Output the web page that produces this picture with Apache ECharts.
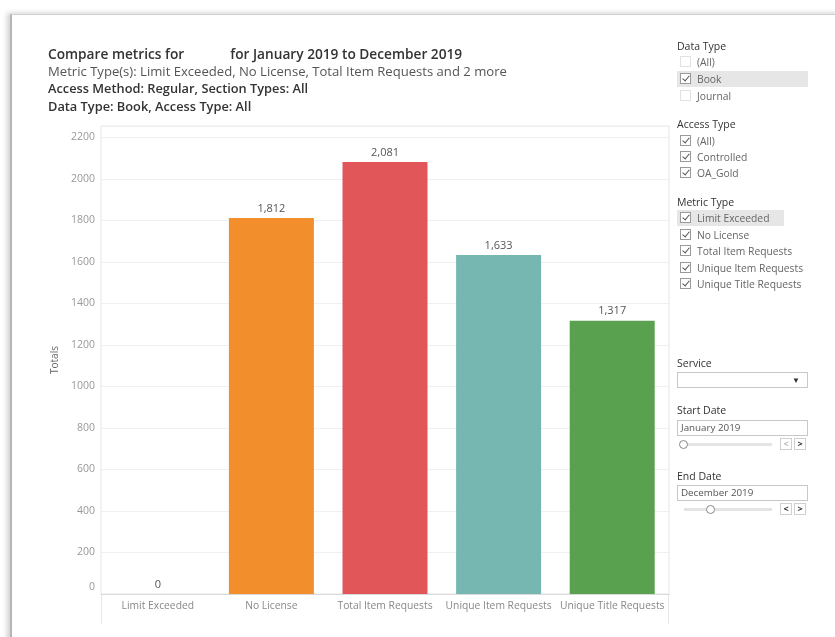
<!DOCTYPE html>
<html>
<head>
<meta charset="utf-8">
<script src="https://cdn.jsdelivr.net/npm/echarts@6/dist/echarts.min.js"></script>
<style>
  html, body { margin:0; padding:0; background:#fff; }
  body { width:835px; height:637px; position:relative; overflow:hidden; font-family:"Open Sans", "Noto Sans", sans-serif; }
  #frame { position:absolute; left:10px; top:14px; width:900px; height:700px; border-left:2px solid #b5b5b5; border-top:1px solid #d0d0d0; box-shadow:-3px -1px 5px rgba(0,0,0,0.18); }
  #chart { position:absolute; left:0; top:0; width:835px; height:637px; }
  .hdr { position:absolute; left:677px; font-size:10.5px; color:#333; }
  .row { position:absolute; left:677px; height:16px; line-height:16px; font-size:10.3px; color:#666; }
  .row.hl { background:#e6e6e6; }
  .cb { position:absolute; left:3px; top:2px; width:11px; height:11px; border:1px solid #9a9a9a; box-sizing:border-box; background:#fff; }
  .cb.off { border-color:#e2e2e2; }
  .cb.on::after { content:""; position:absolute; left:3px; top:0px; width:3px; height:6px; border:solid #555; border-width:0 1px 1px 0; transform:rotate(40deg); }
  .lbl { position:absolute; left:20px; top:0; white-space:nowrap; }
  .box { position:absolute; left:677px; width:131px; height:16px; border:1px solid #c8c8c8; box-sizing:border-box; font-size:9.8px; color:#555; line-height:14px; padding-left:3px; background:#fff; }
  .slider { position:absolute; height:3px; background:#e4e4e4; }
  .knob { position:absolute; width:7px; height:7px; border:1px solid #888; border-radius:50%; background:#fff; }
  .btn { position:absolute; width:12px; height:12px; border:1px solid #d0d0d0; box-sizing:border-box; font-size:9px; line-height:10px; text-align:center; color:#333; font-weight:bold; }
  .btn.dim { color:#bbb; }
</style>
</head>
<body>
<div id="frame"></div>
<div id="chart"></div>

<div class="hdr" style="top:39px;">Data Type</div>
<div class="row" style="top:54px;width:131px;"><span class="cb off"></span><span class="lbl">(All)</span></div>
<div class="row hl" style="top:71px;width:131px;"><span class="cb on"></span><span class="lbl">Book</span></div>
<div class="row" style="top:88px;width:131px;"><span class="cb off"></span><span class="lbl">Journal</span></div>

<div class="hdr" style="top:117px;">Access Type</div>
<div class="row" style="top:133px;width:131px;"><span class="cb on"></span><span class="lbl">(All)</span></div>
<div class="row" style="top:149px;width:131px;"><span class="cb on"></span><span class="lbl">Controlled</span></div>
<div class="row" style="top:165px;width:131px;"><span class="cb on"></span><span class="lbl">OA_Gold</span></div>

<div class="hdr" style="top:195px;">Metric Type</div>
<div class="row hl" style="top:210px;width:107px;"><span class="cb on"></span><span class="lbl">Limit Exceeded</span></div>
<div class="row" style="top:227px;width:131px;"><span class="cb on"></span><span class="lbl">No License</span></div>
<div class="row" style="top:243px;width:131px;"><span class="cb on"></span><span class="lbl">Total Item Requests</span></div>
<div class="row" style="top:260px;width:131px;"><span class="cb on"></span><span class="lbl">Unique Item Requests</span></div>
<div class="row" style="top:276px;width:131px;"><span class="cb on"></span><span class="lbl">Unique Title Requests</span></div>

<div class="hdr" style="top:356px;">Service</div>
<div class="box" style="top:372px;"><span style="position:absolute;right:7px;top:0;font-size:8px;color:#333;">&#9660;</span></div>

<div class="hdr" style="top:403px;">Start Date</div>
<div class="box" style="top:420px;">January 2019</div>
<div class="slider" style="left:680px;top:443px;width:92px;"></div>
<div class="knob" style="left:679px;top:440px;"></div>
<div class="btn dim" style="left:780px;top:438px;">&lt;</div>
<div class="btn" style="left:794px;top:438px;">&gt;</div>

<div class="hdr" style="top:469px;">End Date</div>
<div class="box" style="top:485px;">December 2019</div>
<div class="slider" style="left:684px;top:508px;width:88px;"></div>
<div class="knob" style="left:706px;top:505px;"></div>
<div class="btn" style="left:780px;top:503px;">&lt;</div>
<div class="btn" style="left:794px;top:503px;">&gt;</div>

<script>
const categories = ["Limit Exceeded", "No License", "Total Item Requests", "Unique Item Requests", "Unique Title Requests"];
const values = [0, 1812, 2081, 1633, 1317];
const barColors = ["#f28e2b", "#f28e2b", "#e15759", "#76b7b2", "#59a14f"];
const yTicks = [0, 200, 400, 600, 800, 1000, 1200, 1400, 1600, 1800, 2000, 2200];

const chart = echarts.init(document.getElementById('chart'), null, {renderer:'canvas'});
const fam = '"Open Sans", "Noto Sans", sans-serif';
const gridLeft = 101, gridTop = 126, gridRight = 669, gridBottom = 594;

chart.setOption({
  animation: false,
  title: [
    { text: '{b|Compare metrics for}{g|}{b|for January 2019 to December 2019}', left: 43, top: 41,
      textStyle: { rich: { b: { fontFamily: fam, fontSize: 13.7, fontWeight: 600, color: '#333' }, g: { width: 46 } } } },
    { text: 'Metric Type(s): Limit Exceeded, No License, Total Item Requests and 2 more', left: 43, top: 61,
      textStyle: { fontFamily: fam, fontSize: 13.1, fontWeight: 'normal', color: '#555' } },
    { text: 'Access Method: Regular, Section Types: All', left: 43, top: 78,
      textStyle: { fontFamily: fam, fontSize: 12.8, fontWeight: 600, color: '#333' } },
    { text: 'Data Type: Book, Access Type: All', left: 43, top: 96,
      textStyle: { fontFamily: fam, fontSize: 12.8, fontWeight: 600, color: '#333' } }
  ],
  grid: { left: gridLeft, top: gridTop, width: gridRight - gridLeft, height: gridBottom - gridTop,
          show: true, borderColor: '#e6e6e6', borderWidth: 1 },
  xAxis: {
    type: 'category', data: categories,
    axisLine: { show: true, lineStyle: { color: '#d9d9d9' } },
    axisTick: { show: false },
    axisLabel: { color: '#888', fontFamily: fam, fontSize: 10.3, margin: 7, interval: 0 }
  },
  yAxis: {
    type: 'value', min: 0, max: 2255, interval: 200,
    name: 'Totals', nameLocation: 'middle', nameGap: 37, nameRotate: 90,
    nameTextStyle: { color: '#666', fontFamily: fam, fontSize: 10 },
    axisLine: { show: false }, axisTick: { show: false },
    axisLabel: { showMaxLabel: false, color: '#999', fontFamily: fam, fontSize: 10.5, margin: 6,
      formatter: v => yTicks.includes(v) ? (v === 0 ? '{z|0}' : String(v)) : '',
      rich: { z: { color: '#999', fontFamily: fam, fontSize: 10.5, padding: [0, 0, 14, 0] } } },
    splitLine: { lineStyle: { color: '#f0f0f0' } }
  },
  series: [{
    type: 'bar',
    data: values.map((v, i) => ({ value: v, itemStyle: { color: barColors[i] } })),
    barWidth: 85,
    label: { show: true, position: 'top', distance: 4, color: '#555', fontFamily: fam, fontSize: 11,
      formatter: p => p.value.toLocaleString('en-US') }
  }],
  graphic: [
    { type: 'line', shape: { x1: gridLeft + 0.5, y1: gridBottom, x2: gridLeft + 0.5, y2: 624 }, style: { stroke: '#e6e6e6', lineWidth: 1 } },
    { type: 'line', shape: { x1: gridRight - 0.5, y1: gridBottom, x2: gridRight - 0.5, y2: 624 }, style: { stroke: '#e6e6e6', lineWidth: 1 } }
  ]
});
</script>
</body>
</html>
